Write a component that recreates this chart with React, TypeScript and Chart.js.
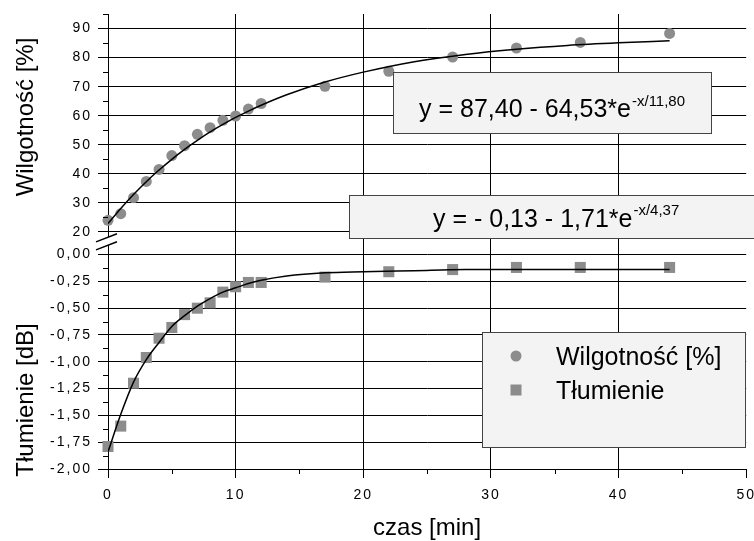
import React, { useEffect, useRef } from 'react';
import { Chart, registerables } from 'chart.js';

Chart.register(...registerables);

// ---- data ----
const timeMin = [0, 1, 2, 3, 4, 5, 6, 7, 8, 9, 10, 11, 12, 17, 22, 27, 32, 37, 44];
const wilgotnosc = [24.0, 26.3, 31.8, 37.4, 41.5, 46.3, 49.7, 53.6, 55.9, 58.4, 59.9, 62.3, 64.2, 70.1, 75.3, 80.2, 83.3, 85.2, 88.3];
const tlumienie = [-1.79, -1.6, -1.2, -0.96, -0.78, -0.68, -0.56, -0.5, -0.45, -0.35, -0.3, -0.26, -0.26, -0.21, -0.16, -0.14, -0.12, -0.12, -0.12];

const fitTime = [0, 1, 2, 3, 4, 5, 6, 7, 8, 9, 10, 11, 12, 14, 17, 20, 24, 28, 32, 36, 40, 44];
const wilgotnoscFit = [22.9, 28.1, 32.9, 37.3, 41.3, 45.0, 48.4, 51.5, 54.4, 57.0, 59.4, 61.6, 63.6, 67.2, 71.6, 75.0, 78.6, 81.1, 82.9, 84.2, 85.1, 85.8];
const tlumienieFit = [-1.84, -1.49, -1.19, -0.98, -0.82, -0.67, -0.57, -0.48, -0.41, -0.35, -0.31, -0.27, -0.24, -0.2, -0.17, -0.16, -0.15, -0.14, -0.14, -0.14, -0.14, -0.14];

const xTicks = [0, 5, 10, 15, 20, 25, 30, 35, 40, 45, 50];
const wTicks = [20, 25, 30, 35, 40, 45, 50, 55, 60, 65, 70, 75, 80, 85, 90, 95];
const tTicks = [-2, -1.875, -1.75, -1.625, -1.5, -1.375, -1.25, -1.125, -1, -0.875, -0.75, -0.625, -0.5, -0.375, -0.25, -0.125, 0];

const seriesLabels = ['Wilgotność [%]', 'Tłumienie'];
const xTitle = 'czas [min]';
const wTitle = 'Wilgotność [%]';
const tTitle = 'Tłumienie [dB]';
const eq1Main = 'y = 87,40 - 64,53*e';
const eq1Exp = '-x/11,80';
const eq2Main = 'y = - 0,13 - 1,71*e';
const eq2Exp = '-x/4,37';

const FONT = "'Liberation Sans', Arial, sans-serif";
const POINT = '#8c8c8c';
const CLEAR = 'rgba(0,0,0,0)';

const isMajorX = (v: number) => Math.abs(v % 10) < 1e-9;
const isMajorW = (v: number) => Math.abs(v % 10) < 1e-9;
const isMajorT = (v: number) => Math.abs(v * 4 - Math.round(v * 4)) < 1e-9;
const fmtT = (v: number) => (Math.abs(v) < 1e-9 ? 0 : v).toFixed(2).replace('.', ',');

const decor = {
  id: 'decor',
  beforeDraw(chart: any) {
    chart.ctx.letterSpacing = '2px';
  },
  afterDraw(chart: any) {
    const ctx = chart.ctx as CanvasRenderingContext2D;
    const { x, yW, yT } = chart.scales;
    const area = chart.chartArea;
    ctx.save();
    (ctx as any).letterSpacing = '0px';

    // minor ticks
    ctx.strokeStyle = '#000';
    ctx.lineWidth = 1;
    ctx.beginPath();
    for (const t of x.ticks) {
      if (isMajorX(t.value)) continue;
      const px = Math.round(x.getPixelForValue(t.value)) + 0.5;
      ctx.moveTo(px, area.bottom);
      ctx.lineTo(px, area.bottom + 5);
    }
    for (const t of yW.ticks) {
      if (isMajorW(t.value)) continue;
      const py = Math.round(yW.getPixelForValue(t.value)) + 0.5;
      ctx.moveTo(area.left - 5, py);
      ctx.lineTo(area.left, py);
    }
    for (const t of yT.ticks) {
      if (isMajorT(t.value)) continue;
      const py = Math.round(yT.getPixelForValue(t.value)) + 0.5;
      ctx.moveTo(area.left - 5, py);
      ctx.lineTo(area.left, py);
    }
    ctx.stroke();

    // axis break
    const c = (yW.getPixelForValue(20) + yT.getPixelForValue(0)) / 2 - 2;
    const ax = area.left;
    ctx.fillStyle = '#fff';
    ctx.beginPath();
    ctx.moveTo(ax - 12, c - 4 + 4.6);
    ctx.lineTo(ax + 9, c - 4 - 3.5);
    ctx.lineTo(ax + 9, c + 4 - 3.5);
    ctx.lineTo(ax - 12, c + 4 + 4.6);
    ctx.closePath();
    ctx.fill();
    ctx.strokeStyle = '#000';
    ctx.lineWidth = 1.5;
    ctx.beginPath();
    ctx.moveTo(ax - 12, c - 4 + 4.6);
    ctx.lineTo(ax + 9, c - 4 - 3.5);
    ctx.moveTo(ax - 12, c + 4 + 4.6);
    ctx.lineTo(ax + 9, c + 4 - 3.5);
    ctx.stroke();

    // axis titles
    ctx.fillStyle = '#000';
    ctx.font = `24px ${FONT}`;
    ctx.textAlign = 'center';
    ctx.textBaseline = 'alphabetic';
    ctx.fillText(xTitle, (area.left + area.right) / 2, 535);
    ctx.save();
    ctx.translate(33, 117);
    ctx.rotate(-Math.PI / 2);
    ctx.fillText(wTitle, 0, 0);
    ctx.restore();
    ctx.save();
    ctx.translate(33, 400);
    ctx.rotate(-Math.PI / 2);
    ctx.fillText(tTitle, 0, 0);
    ctx.restore();

    // equation boxes
    const drawBox = (bx: number, by: number, bw: number, bh: number) => {
      ctx.fillStyle = '#f3f3f3';
      ctx.fillRect(bx, by, bw, bh);
      ctx.strokeStyle = '#444';
      ctx.lineWidth = 1;
      ctx.strokeRect(bx + 0.5, by + 0.5, bw, bh);
    };
    const drawEq = (main: string, exp: string, tx: number, base: number, expBase: number) => {
      ctx.fillStyle = '#000';
      ctx.textAlign = 'left';
      ctx.textBaseline = 'alphabetic';
      ctx.font = `25px ${FONT}`;
      ctx.fillText(main, tx, base);
      const w = ctx.measureText(main).width;
      ctx.font = `15px ${FONT}`;
      ctx.fillText(exp, tx + w + 1, expBase);
    };
    drawBox(393, 72, 318, 61);
    drawEq(eq1Main, eq1Exp, 419, 117, 106);
    drawBox(349, 195, 420, 43);
    drawEq(eq2Main, eq2Exp, 433, 227, 215);

    // legend
    drawBox(482, 332, 263, 115);
    ctx.fillStyle = POINT;
    ctx.beginPath();
    ctx.arc(516, 356, 5.5, 0, Math.PI * 2);
    ctx.fill();
    ctx.fillRect(510.5, 384.5, 11, 11);
    ctx.fillStyle = '#000';
    ctx.font = `25px ${FONT}`;
    ctx.textAlign = 'left';
    ctx.textBaseline = 'alphabetic';
    ctx.fillText(seriesLabels[0], 556, 365);
    ctx.fillText(seriesLabels[1], 556, 399);

    ctx.restore();
  },
};

export default function App() {
  const ref = useRef<HTMLCanvasElement>(null);

  useEffect(() => {
    const tickFont = { family: FONT, size: 14 };
    const chart = new Chart(ref.current as HTMLCanvasElement, {
      type: 'scatter',
      data: {
        datasets: [
          {
            label: 'fitW',
            data: fitTime.map((t, i) => ({ x: t, y: wilgotnoscFit[i] })),
            yAxisID: 'yW',
            showLine: true,
            borderColor: '#000',
            borderWidth: 1.5,
            pointRadius: 0,
            cubicInterpolationMode: 'monotone',
          } as any,
          {
            label: 'fitT',
            data: fitTime.map((t, i) => ({ x: t, y: tlumienieFit[i] })),
            yAxisID: 'yT',
            showLine: true,
            borderColor: '#000',
            borderWidth: 1.5,
            pointRadius: 0,
            cubicInterpolationMode: 'monotone',
          } as any,
          {
            label: seriesLabels[0],
            data: timeMin.map((t, i) => ({ x: t, y: wilgotnosc[i] })),
            yAxisID: 'yW',
            pointStyle: 'circle',
            pointRadius: 5.5,
            backgroundColor: POINT,
            borderWidth: 0,
            clip: false,
          } as any,
          {
            label: seriesLabels[1],
            data: timeMin.map((t, i) => ({ x: t, y: tlumienie[i] })),
            yAxisID: 'yT',
            pointStyle: 'rect',
            pointRadius: 7.8,
            backgroundColor: POINT,
            borderWidth: 0,
            clip: false,
          } as any,
        ],
      },
      options: {
        responsive: false,
        animation: false,
        events: [],
        layout: { padding: { left: 0, right: 7, top: 14, bottom: 0 } },
        plugins: { legend: { display: false }, tooltip: { enabled: false }, title: { display: false } },
        scales: {
          x: {
            type: 'linear',
            position: 'bottom',
            min: 0,
            max: 50,
            afterBuildTicks: (s: any) => {
              s.ticks = xTicks.map((v) => ({ value: v }));
            },
            afterFit: (s: any) => {
              s.height = 72;
              s.paddingLeft = 0;
              s.paddingRight = 0;
            },
            ticks: {
              autoSkip: false,
              maxRotation: 0,
              padding: 9,
              color: '#000',
              font: tickFont,
              callback: (v: any) => (isMajorX(Number(v)) ? String(v) : ''),
            },
            grid: {
              color: (c: any) => (c.tick && isMajorX(c.tick.value) && c.tick.value > 0 && c.tick.value < 50 ? '#000' : CLEAR),
              tickColor: (c: any) => (c.tick && isMajorX(c.tick.value) ? '#000' : CLEAR),
              tickLength: 9,
              lineWidth: 1,
            },
            border: { display: true, color: '#000', width: 1 },
          },
          yT: {
            type: 'linear',
            position: 'left',
            stack: 'left',
            stackWeight: 226,
            weight: 1,
            min: -2,
            max: 0.108,
            afterBuildTicks: (s: any) => {
              s.ticks = tTicks.map((v) => ({ value: v }));
            },
            afterFit: (s: any) => {
              s.width = 108;
              s.paddingTop = 0;
              s.paddingBottom = 0;
            },
            ticks: {
              autoSkip: false,
              padding: 6,
              color: '#000',
              font: tickFont,
              callback: (v: any) => (isMajorT(Number(v)) ? fmtT(Number(v)) : ''),
            },
            grid: {
              color: (c: any) => (c.tick && isMajorT(c.tick.value) ? '#000' : CLEAR),
              tickColor: (c: any) => (c.tick && isMajorT(c.tick.value) ? '#000' : CLEAR),
              tickLength: 10,
              lineWidth: 1,
            },
            border: { display: true, color: '#000', width: 1 },
          },
          yW: {
            type: 'linear',
            position: 'left',
            stack: 'left',
            stackWeight: 229,
            weight: 2,
            min: 16.2,
            max: 95,
            afterBuildTicks: (s: any) => {
              s.ticks = wTicks.map((v) => ({ value: v }));
            },
            afterFit: (s: any) => {
              s.width = 108;
              s.paddingTop = 0;
              s.paddingBottom = 0;
            },
            ticks: {
              autoSkip: false,
              padding: 6,
              color: '#000',
              font: tickFont,
              callback: (v: any) => (isMajorW(Number(v)) ? String(v) : ''),
            },
            grid: {
              color: (c: any) => (c.tick && isMajorW(c.tick.value) ? '#000' : CLEAR),
              tickColor: (c: any) => (c.tick && isMajorW(c.tick.value) ? '#000' : CLEAR),
              tickLength: 10,
              lineWidth: 1,
            },
            border: { display: true, color: '#000', width: 1 },
          },
        },
      } as any,
      plugins: [decor as any],
    });
    return () => chart.destroy();
  }, []);

  return (
    <div style={{ position: 'fixed', left: 0, top: 0, width: 754, height: 541, background: '#fff' }}>
      <canvas ref={ref} width={754} height={541} style={{ display: 'block' }} />
    </div>
  );
}
